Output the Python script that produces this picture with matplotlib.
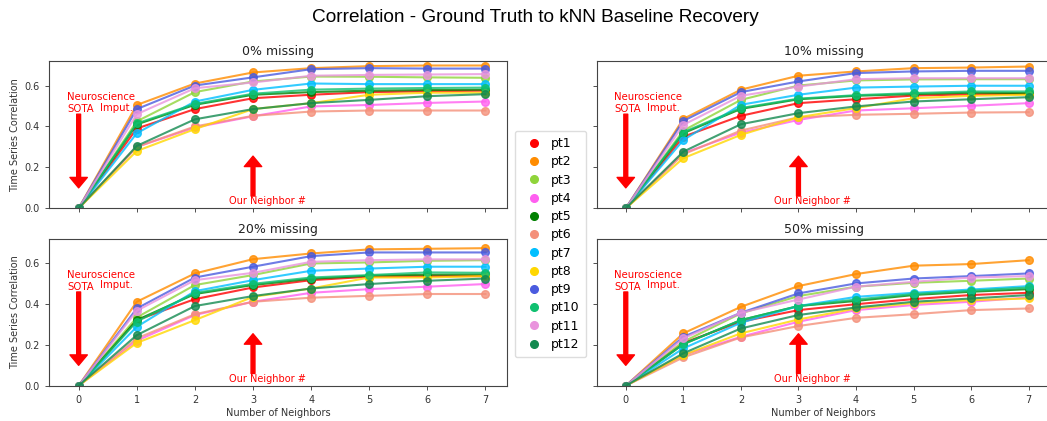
import matplotlib
matplotlib.use("Agg")
import matplotlib.pyplot as plt
from matplotlib.lines import Line2D

neighbors = [0, 1, 2, 3, 4, 5, 6, 7]
patients = ["pt1", "pt2", "pt3", "pt4", "pt5", "pt6", "pt7", "pt8", "pt9", "pt10", "pt11", "pt12"]
colors = ["red", "darkorange", "#8fd43a", "#ff5ff0", "green", "#f4907a",
          "deepskyblue", "gold", "#4a5bdf", "#10c070", "#e994dd", "#138a50"]
panel_titles = ["0% missing", "10% missing", "20% missing", "50% missing"]

miss0 = [
    [0, 0.390, 0.485, 0.538, 0.555, 0.568, 0.572, 0.575],
    [0, 0.505, 0.610, 0.664, 0.685, 0.695, 0.698, 0.698],
    [0, 0.425, 0.568, 0.620, 0.644, 0.643, 0.640, 0.638],
    [0, 0.300, 0.395, 0.450, 0.498, 0.505, 0.515, 0.522],
    [0, 0.410, 0.506, 0.555, 0.568, 0.575, 0.578, 0.580],
    [0, 0.300, 0.400, 0.452, 0.473, 0.478, 0.478, 0.478],
    [0, 0.367, 0.522, 0.579, 0.610, 0.607, 0.607, 0.607],
    [0, 0.280, 0.387, 0.485, 0.514, 0.555, 0.565, 0.565],
    [0, 0.485, 0.600, 0.640, 0.680, 0.685, 0.683, 0.683],
    [0, 0.415, 0.510, 0.560, 0.580, 0.585, 0.588, 0.590],
    [0, 0.460, 0.587, 0.615, 0.648, 0.652, 0.654, 0.656],
    [0, 0.305, 0.435, 0.485, 0.514, 0.530, 0.548, 0.558],
]
miss10 = [
    [0, 0.350, 0.452, 0.514, 0.533, 0.551, 0.557, 0.560],
    [0, 0.437, 0.580, 0.648, 0.669, 0.685, 0.688, 0.693],
    [0, 0.380, 0.530, 0.600, 0.625, 0.630, 0.631, 0.631],
    [0, 0.270, 0.370, 0.432, 0.478, 0.489, 0.501, 0.514],
    [0, 0.367, 0.486, 0.533, 0.550, 0.558, 0.565, 0.563],
    [0, 0.264, 0.380, 0.445, 0.457, 0.462, 0.468, 0.470],
    [0, 0.334, 0.506, 0.555, 0.590, 0.595, 0.599, 0.599],
    [0, 0.245, 0.359, 0.445, 0.490, 0.538, 0.550, 0.555],
    [0, 0.427, 0.568, 0.620, 0.661, 0.669, 0.672, 0.672],
    [0, 0.372, 0.490, 0.536, 0.553, 0.563, 0.571, 0.571],
    [0, 0.408, 0.550, 0.595, 0.631, 0.636, 0.636, 0.636],
    [0, 0.277, 0.411, 0.465, 0.498, 0.522, 0.533, 0.543],
]
miss20 = [
    [0, 0.322, 0.425, 0.482, 0.518, 0.535, 0.538, 0.538],
    [0, 0.412, 0.551, 0.621, 0.649, 0.669, 0.672, 0.675],
    [0, 0.335, 0.494, 0.543, 0.600, 0.605, 0.613, 0.616],
    [0, 0.221, 0.347, 0.412, 0.456, 0.474, 0.486, 0.499],
    [0, 0.322, 0.450, 0.494, 0.525, 0.540, 0.545, 0.546],
    [0, 0.232, 0.351, 0.412, 0.432, 0.441, 0.450, 0.450],
    [0, 0.289, 0.464, 0.518, 0.564, 0.575, 0.584, 0.584],
    [0, 0.210, 0.322, 0.436, 0.477, 0.531, 0.531, 0.538],
    [0, 0.379, 0.531, 0.584, 0.636, 0.654, 0.654, 0.654],
    [0, 0.315, 0.455, 0.500, 0.531, 0.543, 0.556, 0.554],
    [0, 0.368, 0.518, 0.554, 0.608, 0.616, 0.620, 0.620],
    [0, 0.248, 0.391, 0.440, 0.477, 0.499, 0.515, 0.526],
]
miss50 = [
    [0, 0.210, 0.314, 0.371, 0.400, 0.425, 0.445, 0.456],
    [0, 0.257, 0.387, 0.489, 0.548, 0.589, 0.597, 0.616],
    [0, 0.216, 0.355, 0.440, 0.486, 0.505, 0.515, 0.526],
    [0, 0.150, 0.240, 0.314, 0.371, 0.396, 0.412, 0.433],
    [0, 0.204, 0.322, 0.391, 0.416, 0.445, 0.461, 0.474],
    [0, 0.139, 0.237, 0.293, 0.333, 0.351, 0.371, 0.379],
    [0, 0.183, 0.309, 0.391, 0.436, 0.456, 0.472, 0.489],
    [0, 0.150, 0.257, 0.325, 0.379, 0.405, 0.420, 0.428],
    [0, 0.240, 0.358, 0.453, 0.502, 0.526, 0.538, 0.551],
    [0, 0.204, 0.322, 0.391, 0.423, 0.450, 0.466, 0.482],
    [0, 0.232, 0.358, 0.423, 0.486, 0.510, 0.531, 0.538],
    [0, 0.159, 0.281, 0.347, 0.384, 0.412, 0.428, 0.445],
]
panels = [miss0, miss10, miss20, miss50]

W, H = 1047, 421
fig = plt.figure(figsize=(W / 100, H / 100), dpi=100)

def fx(px):
    return px / W

def fy(px):
    return 1 - px / H

rects = [
    (fx(49), fy(208.3), fx(507) - fx(49), fy(61) - fy(208.3)),
    (fx(597), fy(208.3), fx(1050) - fx(597), fy(61) - fy(208.3)),
    (fx(49), fy(385.7), fx(507) - fx(49), fy(239) - fy(385.7)),
    (fx(597), fy(385.7), fx(1050) - fx(597), fy(239) - fy(385.7)),
]
xlims = [(-0.51, 7.37), (-0.50, 7.37), (-0.51, 7.37), (-0.50, 7.37)]

for i, (rect, data, title) in enumerate(zip(rects, panels, panel_titles)):
    ax = fig.add_axes(rect)
    for vals, c in zip(data, colors):
        ax.plot(neighbors, vals, color=c, marker="o", markersize=5.5,
                linewidth=1.5, alpha=0.8)
    ax.set_xlim(*xlims[i])
    ax.set_ylim(0, 0.72)
    ax.set_xticks(neighbors)
    ax.set_yticks([0.0, 0.2, 0.4, 0.6])
    ax.tick_params(labelsize=7, length=3, width=0.6, colors="#333333")
    for s in ax.spines.values():
        s.set_linewidth(0.8)
        s.set_color("#444444")
    ax.set_title(title, fontsize=9, pad=4, color="#222222")
    if i < 2:
        ax.set_xticklabels([])
    else:
        ax.set_xlabel("Number of Neighbors", fontsize=7, labelpad=2, color="#333333")
    if i % 2 == 1:
        ax.set_yticklabels([])
    else:
        ax.set_ylabel("Time Series Correlation", fontsize=7, labelpad=3, color="#333333")
        ax.set_yticklabels(["0.0", "0.2", "0.4", "0.6"])

    ax.text(-0.2, 0.545, "Neuroscience", color="red", fontsize=7.3,
            ha="left", va="center")
    ax.text(-0.2, 0.483, "SOTA", color="red", fontsize=7.3, ha="left", va="center")
    ax.text(0.36, 0.492, "Imput.", color="red", fontsize=7.3, ha="left", va="center")
    ax.annotate("", xy=(0, 0.10), xytext=(0, 0.46),
                arrowprops=dict(color="red", width=2.8, headwidth=12.5,
                                headlength=7.5, shrink=0))
    ax.annotate("", xy=(3, 0.255), xytext=(3, 0.06),
                arrowprops=dict(color="red", width=2.8, headwidth=12.5,
                                headlength=7.5, shrink=0))
    ax.text(3.24, 0.035, "Our Neighbor #", color="red", fontsize=7,
            ha="center", va="center")

handles = [Line2D([], [], color=c, marker="o", linestyle="none", markersize=5.5)
           for c in colors]
fig.legend(handles, patients, loc="center", bbox_to_anchor=(fx(550.5), fy(244)),
           fontsize=9, labelspacing=0.42, handletextpad=0.4, borderpad=0.5,
           frameon=True, framealpha=1, edgecolor="#dddddd", fancybox=True)

fig.suptitle("Correlation - Ground Truth to kNN Baseline Recovery",
             x=0.511, y=fy(17), va="center", fontsize=13.7,
             family=["Liberation Sans", "DejaVu Sans"])

fig.savefig("out.png", dpi=100)
